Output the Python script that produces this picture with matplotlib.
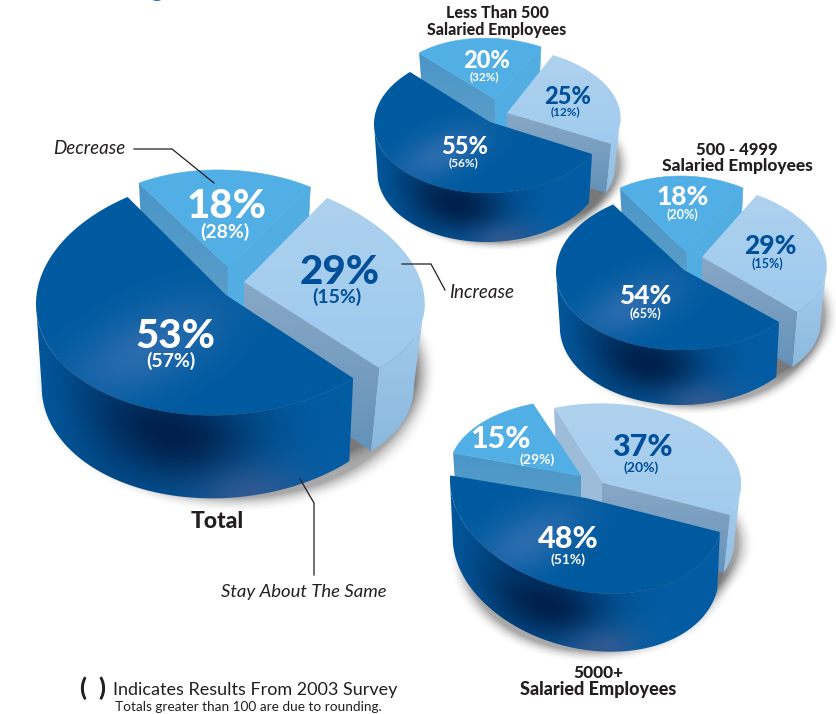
import numpy as np
import matplotlib
matplotlib.use("Agg")
import matplotlib.pyplot as plt
from matplotlib.colors import to_rgb
from matplotlib.patches import Polygon

plt.rcParams["font.family"] = ["Lato", "DejaVu Sans"]

# Survey shares, percent, in the order decrease / increase / stay the same
total_2004 = [18, 29, 53]
total_2003 = [28, 15, 57]
small_2004 = [20, 25, 55]
small_2003 = [32, 12, 56]
mid_2004 = [18, 29, 54]
mid_2003 = [20, 15, 65]
large_2004 = [15, 37, 48]
large_2003 = [29, 20, 51]

W, H = 837, 714
BLUE_TEXT = "#004f98"
INK = "#231f20"

fig = plt.figure(figsize=(W / 100, H / 100), dpi=100)
ax = fig.add_axes([0, 0, 1, 1])
ax.set_axis_off()
ax.set_xlim(0, W)
ax.set_ylim(H, 0)


def rgb(c):
    return np.array(to_rgb(c))


def gauss(x, mu, sd):
    return np.exp(-((x - mu) / sd) ** 2)


def mix(a, b, f):
    return a[None, None, :] * (1 - f[..., None]) + b[None, None, :] * f[..., None]


def paint(points, shader, z):
    """Fill a polygon with a per-pixel colour function."""
    pts = np.asarray(points)
    x0, y0 = np.floor(pts.min(axis=0)) - 2
    x1, y1 = np.ceil(pts.max(axis=0)) + 2
    xs = np.arange(x0, x1 + 1)
    ys = np.arange(y0, y1 + 1)
    X, Y = np.meshgrid(xs, ys)
    img = np.clip(shader(X, Y), 0, 1)
    im = ax.imshow(img, extent=(x0 - .5, x1 + .5, y1 + .5, y0 - .5), origin="upper",
                   aspect="auto", interpolation="bilinear", zorder=z)
    im.set_clip_path(Polygon(pts, closed=True, transform=ax.transData, fc="none", ec="none"))
    return im


class Slice:
    """One pie slice: its share sets the sweep; the rest places it on the page."""

    def __init__(self, value, apex, start, m, depth, squeeze):
        self.value = value
        self.cx, self.cy = apex
        self.start = start
        self.a, self.s, self.t, self.b = m
        self.depth = depth
        self.k = squeeze
        self.end = start + value * 3.6

    def rim(self, n=240):
        th = np.radians(np.linspace(self.start, self.end, n))
        return np.column_stack([self.cx + self.a * np.cos(th) + self.s * np.sin(th),
                                self.cy + self.t * np.cos(th) + self.b * np.sin(th)])

    def drop(self, pts):
        out = np.array(pts, dtype=float)
        out[:, 0] = self.cx + (out[:, 0] - self.cx) * self.k
        out[:, 1] = out[:, 1] + self.depth
        return out

    def top_poly(self):
        return np.vstack([[self.cx, self.cy], self.rim()])

    def wall_poly(self):
        # only the arc running from the right silhouette to the left one faces the viewer
        r = self.rim()
        right, left = int(np.argmax(r[:, 0])), int(np.argmin(r[:, 0]))
        if left <= right:
            left = len(r) - 1
        r = r[right:left + 1]
        return np.vstack([r, self.drop(r)[::-1]])

    def face_poly(self, end):
        tip = self.rim(n=2)[0 if end == "start" else -1]
        base = np.array([[self.cx, self.cy], tip])
        return np.vstack([base, self.drop(base)[::-1]])


def shade_dark_top(sl):
    base, glow = rgb("#005a9f"), rgb("#2a6cae")

    def f(X, Y):
        u = (X - sl.cx) / sl.a
        v = (Y - sl.cy) / sl.b
        d = gauss((u * .72 + v * .70) - .02, 0, .26) * gauss(u - v * .95 + .85, 0, .70)
        return mix(base, glow, np.clip(d, 0, 1))
    return f


def shade_dark_wall(sl):
    base, deep, bloom = rgb("#035da4"), rgb("#00214c"), rgb("#3a5a90")

    def f(X, Y):
        u = (X - sl.cx) / sl.a
        rim_y = sl.cy + sl.b * np.sqrt(np.clip(1 - u ** 2, 0, 1))
        w = np.clip((Y - rim_y) / sl.depth, 0, 1.2)
        d = (gauss(u, -.25, .42) * gauss(w, .30, .62) * .98
             + gauss(u, -.66, .30) * .22)
        out = mix(base, deep, np.clip(d, 0, 1))
        g = gauss(u, .13, .26) * gauss(w, 1.0, .36) * .8
        return out * (1 - g[..., None]) + bloom[None, None, :] * g[..., None]
    return f


def shade_vertical(top, bottom, y0, y1):
    a, b = rgb(top), rgb(bottom)

    def f(X, Y):
        return mix(a, b, np.clip((Y - y0) / (y1 - y0), 0, 1))
    return f


def add_shadow(sl, z):
    px, py = sl.cx + 8, sl.cy + sl.depth + 3
    rx, ry = np.hypot(sl.a, sl.s) * sl.k, np.hypot(sl.t, sl.b)
    pad = 30
    xs = np.arange(px - rx - pad, px + rx + pad)
    ys = np.arange(py - ry - pad, py + ry + pad)
    X, Y = np.meshgrid(xs, ys)
    dist = np.sqrt(((X - px) / rx) ** 2 + ((Y - py) / ry) ** 2)
    alpha = np.clip((1.10 - dist) / .13, 0, 1) ** 2 * .45
    img = np.zeros(X.shape + (4,))
    img[..., :3] = .25
    img[..., 3] = alpha
    ax.imshow(img, extent=(xs[0], xs[-1], ys[-1], ys[0]), origin="upper", aspect="auto",
              interpolation="bilinear", zorder=z)


def fill(points, colour, z):
    ax.add_patch(Polygon(points, closed=True, fc=colour, ec=colour, lw=.4, zorder=z))


def draw_pie(dec, inc, same, base_z, dec_first=True):
    add_shadow(same, base_z)
    add_shadow(inc, base_z)
    z_dec = base_z + (1 if dec_first else 5)
    z_inc = base_z + (5 if dec_first else 1)

    # decrease slice: cut faces, then its flat top
    left = dec.face_poly("start")
    paint(left, shade_vertical("#4a96c8", "#5f9fc8", left[:, 1].min(), left[:, 1].max()), z_dec)
    if dec_first:
        fill(dec.face_poly("end"), "#52ade3", z_dec)
    fill(dec.top_poly(), "#52afe5", z_dec + 1)

    # increase slice: wall, cut faces, top
    yl = inc.cy - inc.b
    yh = inc.cy + inc.b + inc.depth
    paint(inc.wall_poly(), shade_vertical("#a9d0f1", "#86b5db", inc.cy, yh), z_inc)
    cut = inc.face_poly("end")
    paint(cut, shade_vertical("#89a8c6", "#6492ba", cut[:, 1].min(), cut[:, 1].max()), z_inc + 1)
    if not dec_first:
        fill(inc.face_poly("start"), "#9dbcda", z_inc)
    paint(inc.top_poly(), shade_vertical("#b0d2ef", "#9bc9ee", yl, inc.cy + inc.b), z_inc + 2)

    # stay-the-same slice sits in front of the other two
    paint(same.wall_poly(), shade_dark_wall(same), base_z + 9)
    paint(same.top_poly(), shade_dark_top(same), base_z + 10)


def pct(x, y, value, size, colour="white"):
    ax.text(x, y, f"{value}%", ha="center", va="center", fontsize=size, fontweight="black",
            color=colour, zorder=40)


def prior(x, y, value, size, colour="white"):
    ax.text(x, y, f"({value}%)", ha="center", va="center", fontsize=size, fontweight="bold",
            color=colour, zorder=40)


def heading(x, y, text, size, weight="black"):
    ax.text(x, y, text, ha="center", va="center", fontsize=size, fontweight=weight,
            color=INK, zorder=40)


def note(x, y, text, size):
    ax.text(x, y, text, ha="left", va="center", fontsize=size, style="italic",
            color=INK, zorder=40)


# Small pie, top centre
draw_pie(Slice(small_2004[0], (495, 99), -126, (103.7, 18.5, -5.1, 60.6), 49, .95),
         Slice(small_2004[1], (507, 113), -54, (111, 24, -9, 65), 49, .95),
         Slice(small_2004[2], (490, 122), 28.4, (116, 0, -2, 71), 49, .97), 2)

# Medium pie, right
draw_pie(Slice(mid_2004[0], (687, 253), -122.4, (114.7, 6.5, 0, 77), 55, .95),
         Slice(mid_2004[1], (702, 257), -57.6, (124, 13.7, 1.2, 74.3), 55, .95),
         Slice(mid_2004[2], (684, 270), 42, (128, 0, -2, 80), 55, .97), 20)

# Large-employer pie, lower right; its wide slice is drawn behind the narrow one
draw_pie(Slice(large_2004[0], (581, 476), -162, (132, 7.5, -.4, 75.9), 62, .97),
         Slice(large_2004[1], (602, 483), -108, (139, 4.9, -2.1, 79.6), 58, .95),
         Slice(large_2004[2], (586, 498), 10, (136, 0, 18, 94), 58, .98), 2, dec_first=False)

# Overall pie, left
draw_pie(Slice(total_2004[0], (228, 267), -122.4, (160, 4, 3.7, 97), 83, .95),
         Slice(total_2004[1], (244, 282), -57.6, (180, 16, 11.7, 107), 83, .94),
         Slice(total_2004[2], (226, 295), 48, (190, 0, -9, 120), 83, .97), 20)

# Share labels
for x, y, v, c in [(227, 206, total_2004[0], "white"), (340, 272, total_2004[1], BLUE_TEXT),
                   (175, 336, total_2004[2], "white")]:
    pct(x, y, v, 29, c)
for x, y, v, c in [(225, 232, total_2003[0], "white"), (337, 297, total_2003[1], BLUE_TEXT),
                   (171, 361, total_2003[2], "white")]:
    prior(x, y, v, 14, c)

for x, y, v, c in [(487, 61, small_2004[0], "white"), (568, 96, small_2004[1], BLUE_TEXT),
                   (465, 147, small_2004[2], "white")]:
    pct(x, y, v, 17, c)
for x, y, v, c in [(484, 77, small_2003[0], "white"), (565, 112, small_2003[1], BLUE_TEXT),
                   (464, 163, small_2003[2], "white")]:
    prior(x, y, v, 8.5, c)

for x, y, v, c in [(683, 197, mid_2004[0], "white"), (770, 246, mid_2004[1], BLUE_TEXT),
                   (645, 296, mid_2004[2], "white")]:
    pct(x, y, v, 19, c)
for x, y, v, c in [(682, 215, mid_2003[0], "white"), (767, 264, mid_2003[1], BLUE_TEXT),
                   (645, 314, mid_2003[2], "white")]:
    prior(x, y, v, 9, c)

for x, y, v, c in [(500, 439, large_2004[0], "white"), (642, 447, large_2004[1], BLUE_TEXT),
                   (568, 539, large_2004[2], "white")]:
    pct(x, y, v, 22, c)
for x, y, v, c in [(537, 460, large_2003[0], "white"), (641, 468, large_2003[1], BLUE_TEXT),
                   (568, 560, large_2003[2], "white")]:
    prior(x, y, v, 10, c)

# Group headings
heading(497, 13, "Less Than 500", 11.5)
heading(497, 30, "Salaried Employees", 11.5)
heading(737, 150, "500 - 4999", 12)
heading(737, 166, "Salaried Employees", 12.5)
heading(598, 673, "5000+", 12.5)
heading(598, 690, "Salaried Employees", 13)
heading(217, 521, "Total", 16.5)

# Slice callouts and their leader lines
note(53, 149, "Decrease", 13.5)
note(449, 292, "Increase", 13.5)
note(221, 592, "Stay About The Same", 13.3)
for xs, ys in [([134, 172, 214], [149, 149, 183]),
               ([402, 431, 445], [264, 264, 290]),
               ([300, 314, 314], [479, 503, 575])]:
    ax.plot(xs, ys, color=INK, lw=.9, zorder=41, solid_joinstyle="miter")

# Footnotes
ax.text(79, 688, "(", ha="left", va="center", fontsize=18, fontweight="black", color=INK)
ax.text(98, 688, ")", ha="left", va="center", fontsize=18, fontweight="black", color=INK)
ax.text(113, 690, "Indicates Results From 2003 Survey", ha="left", va="center",
        fontsize=13, color=INK)
ax.text(115, 707, "Totals greater than 100 are due to rounding.", ha="left", va="center",
        fontsize=9.85, color=INK)

# Descender of the page heading, cut by the top edge
ax.text(156, -4, "g", ha="center", va="baseline", fontsize=20, color="#1f72b8", clip_on=True)

ax.set_xlim(0, W)
ax.set_ylim(H, 0)
fig.savefig("out.png", dpi=100, facecolor="white")
